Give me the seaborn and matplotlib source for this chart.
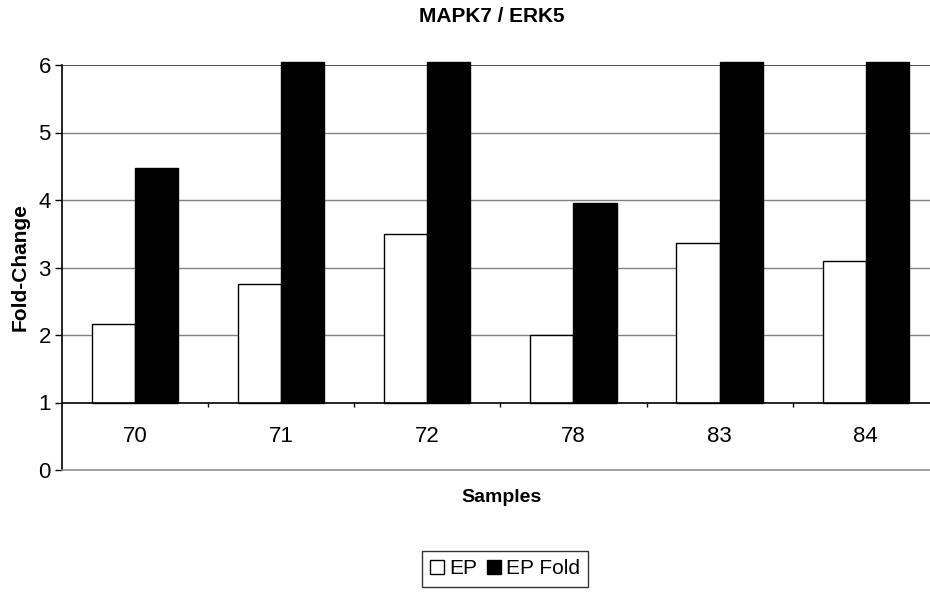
import matplotlib
matplotlib.use("Agg")
import matplotlib.pyplot as plt
import seaborn as sns
import pandas as pd
from matplotlib.lines import Line2D

samples = ["70", "71", "72", "78", "83", "84"]
ep = [2.17, 2.75, 3.50, 2.00, 3.37, 3.09]
ep_fold = [4.48, 6.05, 6.05, 3.96, 6.05, 6.05]
series = ["EP", "EP Fold"]
yticks = [0, 1, 2, 3, 4, 5, 6]
baseline = 1

df = pd.DataFrame({
    "Samples": samples * 2,
    "Value": ep + ep_fold,
    "Series": [series[0]] * len(samples) + [series[1]] * len(samples),
})

sns.set_theme(style="white")
plt.rcParams["font.family"] = ["Liberation Sans", "DejaVu Sans"]
plt.rcParams["text.color"] = "black"
plt.rcParams["axes.labelcolor"] = "black"
plt.rcParams["ytick.color"] = "black"
plt.rcParams["xtick.color"] = "black"

fig = plt.figure(figsize=(9.3, 5.93), dpi=100)
ax = fig.add_axes([62 / 930, 1 - 470 / 593, 1 - 62 / 930, (470 - 65) / 593])

sns.barplot(data=df, x="Samples", y="Value", hue="Series", order=samples,
            hue_order=series, palette=["white", "black"], edgecolor="black",
            linewidth=1.0, width=0.59, gap=0, ax=ax, legend=False, zorder=3)

# bars grow from the baseline at 1
for p in ax.patches:
    top = p.get_y() + p.get_height()
    p.set_y(baseline)
    p.set_height(top - baseline)
    p.set_clip_on(False)

ax.set_ylim(0, 6)
ax.set_xlim(-0.5, 5.44)
ax.set_yticks(yticks)
ax.set_yticklabels([str(t) for t in yticks], fontsize=16)
ax.tick_params(axis="y", left=True, length=5, width=1, color="black", pad=3)

# grid lines
for t in [2, 3, 4, 5]:
    ax.axhline(t, color="#808080", lw=1.0, zorder=1)
ax.axhline(6, color="#303030", lw=1.2, zorder=1)
ax.axhline(baseline, color="black", lw=1.2, zorder=4)

# category separator ticks on the baseline
n = len(samples)
ax.vlines([i + 0.5 for i in range(n - 1)], baseline - 0.07, baseline,
          color="black", lw=1.0, zorder=4)

# category labels between baseline and 0
ax.set_xticks([])
ax.set_xlabel("")
for i, s in enumerate(samples):
    ax.text(i, 0.5, s, ha="center", va="center", fontsize=16)

for side in ["top", "right"]:
    ax.spines[side].set_visible(False)
ax.spines["left"].set_color("black")
ax.spines["left"].set_linewidth(1.2)
ax.spines["bottom"].set_color("#909090")
ax.spines["bottom"].set_linewidth(1.2)

ax.set_ylabel("Fold-Change", fontsize=15, fontweight="bold", labelpad=6)
fig.text(492 / 930, 1 - 17 / 593, "MAPK7 / ERK5", ha="center", va="center",
         fontsize=15, fontweight="bold")
fig.text(501 / 930, 1 - 497 / 593, "Samples", ha="center", va="center",
         fontsize=14, fontweight="bold")

handles = [Line2D([], [], marker="s", ls="none", markerfacecolor=c,
                  markeredgecolor="black", markersize=10, markeredgewidth=1)
           for c in ["white", "black"]]
leg = fig.legend(handles, series, loc="center", bbox_to_anchor=(505 / 930, 1 - 569 / 593),
                 ncol=2, frameon=True, fontsize=15, handlelength=0.7,
                 handletextpad=0.2, columnspacing=0.5, borderpad=0.4,
                 fancybox=False, edgecolor="black")
leg.get_frame().set_linewidth(1.0)

fig.savefig("out.png", dpi=100)
